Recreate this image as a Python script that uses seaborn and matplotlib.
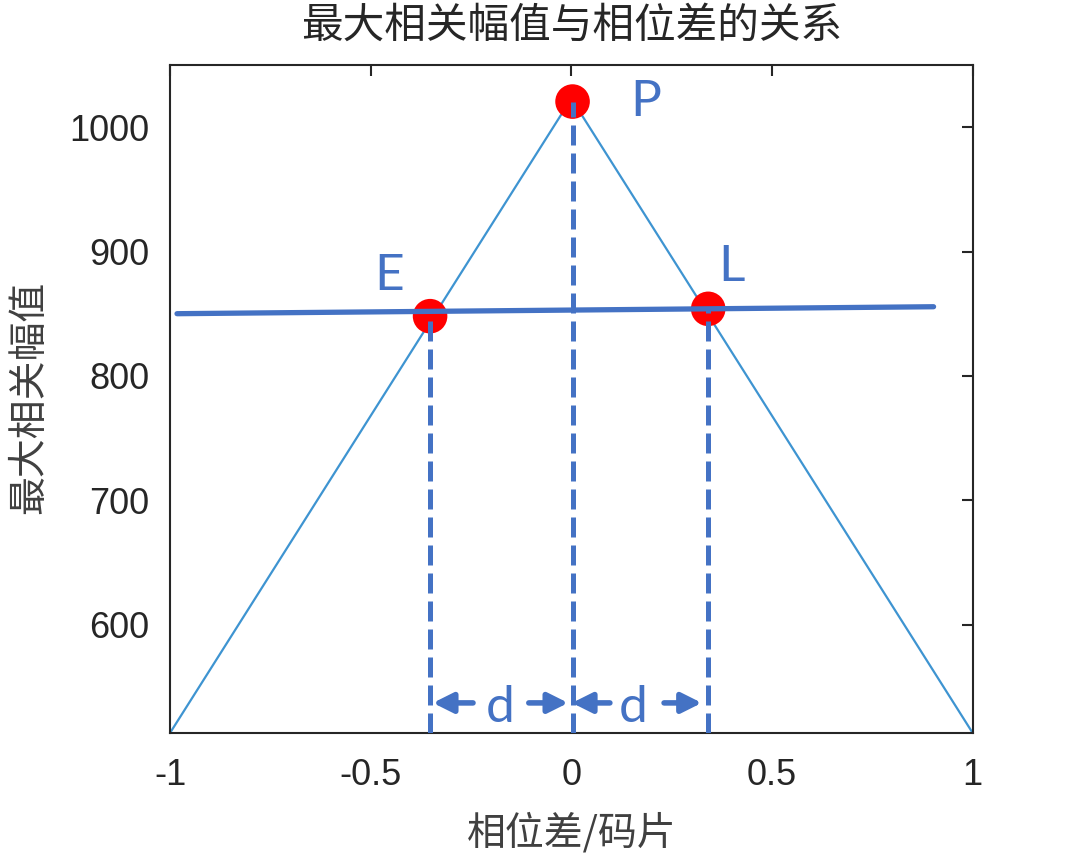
import pandas as pd
import seaborn as sns
import matplotlib.pyplot as plt

# triangle correlation curve
phase = [-1, 0, 1]
corr = [512.8, 1023, 512.8]

# threshold line (two end points)
thr_x = [-0.9825, 0.9025]
thr_y = [850, 855.6]

# E / P / L points
pts_lbl = ['E', 'P', 'L']
pts_x = [-0.352, 0.003, 0.341]
pts_y = [848, 1020.6, 853.9]

xticks = [-1, -0.5, 0, 0.5, 1]
xtick_labels = ['-1', '-0.5', '0', '0.5', '1']
yticks = [600, 700, 800, 900, 1000]

title = "最大相关幅值与相位差的关系"
xlabel = "相位差/码片"
ylabel = "最大相关幅值"

sns.set_style("white")
plt.rcParams['font.family'] = ['Liberation Sans', 'Noto Sans CJK SC']
plt.rcParams['axes.unicode_minus'] = False

blue = '#4472C4'
cjk = ['Noto Sans CJK SC', 'DejaVu Sans']
txt = ['Lato', 'DejaVu Sans']

fig = plt.figure(figsize=(10.76, 8.58), dpi=100)
ax = fig.add_axes([170 / 1076, 1 - 733 / 858, 802.7 / 1076, 668 / 858])

df_tri = pd.DataFrame({'phase': phase, 'corr': corr})
sns.lineplot(data=df_tri, x='phase', y='corr', ax=ax, color='#3E94D1', lw=1.6, zorder=1)

df_pts = pd.DataFrame({'x': pts_x, 'y': pts_y, 'lbl': pts_lbl})
sns.scatterplot(data=df_pts, x='x', y='y', ax=ax, color='#FF0000', s=620,
                edgecolor='none', zorder=2)

df_thr = pd.DataFrame({'x': thr_x, 'y': thr_y})
sns.lineplot(data=df_thr, x='x', y='y', ax=ax, color=blue, lw=3.8, zorder=3)

# dashed drop lines from the bottom up to each point
ax.vlines(pts_x, corr[0], pts_y, colors=blue, linestyles=(0, (4, 1.6)), lw=3.6, zorder=3)

# point labels
ax.text(-0.454, 868.9, 'E', color=blue, fontsize=37, ha='center', va='baseline', family=txt)
ax.text(0.146, 1008.6, 'P', color=blue, fontsize=37, ha='left', va='baseline', family=txt)
ax.text(0.365, 876.1, 'L', color=blue, fontsize=37, ha='left', va='baseline', family=txt)

# d arrows
arr_y = 537
arrows = [(-0.245, -0.345), (-0.106, -0.008), (0.096, 0.0015), (0.231, 0.325)]
for tail, head in arrows:
    ax.annotate('', xy=(head, arr_y), xytext=(tail, arr_y),
                arrowprops=dict(arrowstyle='-|>', color=blue, lw=4,
                                mutation_scale=30, shrinkA=0, shrinkB=0))
for dx in [-0.178, 0.153]:
    ax.text(dx, 521.9, 'd', color=blue, fontsize=37, ha='center', va='baseline', family=txt)

ax.set_xlim(-1, 1)
ax.set_ylim(512.8, 1050)
ax.set_xticks(xticks)
ax.set_xticklabels(xtick_labels)
ax.set_yticks(yticks)
ax.tick_params(direction='in', top=True, right=True, length=8, width=1.5,
               labelsize=26, labelcolor='#262626')
ax.tick_params(axis='x', pad=18)
ax.tick_params(axis='y', pad=15)
for sp in ax.spines.values():
    sp.set_linewidth(1.5)
    sp.set_color('#262626')

ax.set_xlabel(xlabel, fontsize=28, color='#404040', family=cjk)
ax.set_ylabel(ylabel, fontsize=28, color='#404040', family=cjk)
ax.xaxis.set_label_coords(0.5, -0.12)
ax.yaxis.set_label_coords(-0.151, 0.503)
ax.set_title(title, fontsize=30, color='#262626', family=cjk, y=1.045, va='center')

fig.savefig('out.png', dpi=100)
